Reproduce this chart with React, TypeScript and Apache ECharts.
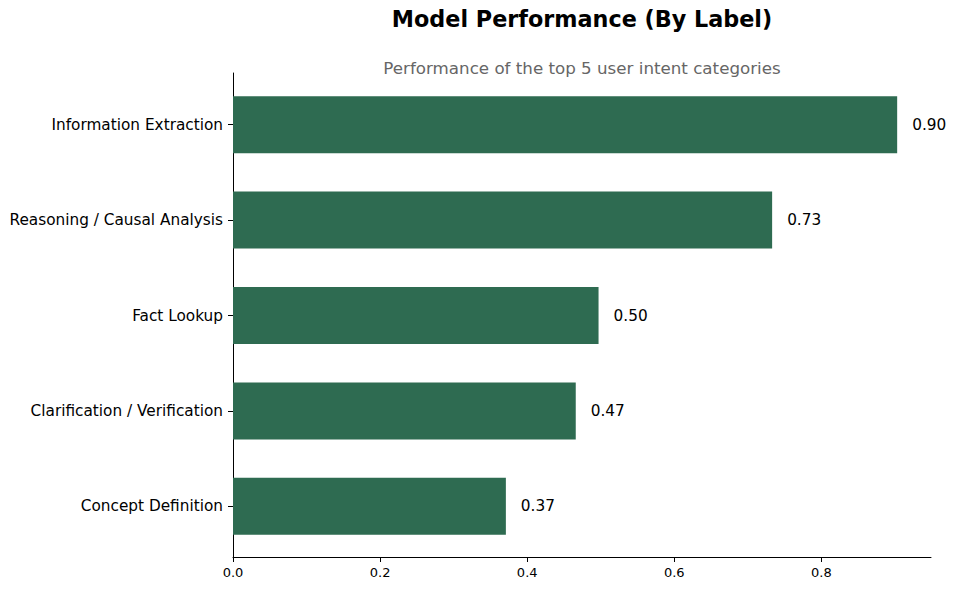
import React, { useEffect, useRef } from "react";
import * as echarts from "echarts";

const categories = [
  "Concept Definition",
  "Clarification / Verification",
  "Fact Lookup",
  "Reasoning / Causal Analysis",
  "Information Extraction",
];
const scores = [0.371, 0.466, 0.497, 0.733, 0.903];
const xTicks = [0, 0.2, 0.4, 0.6, 0.8];
const xMax = 0.949;

const FONT = "DejaVu Sans";

export default function App() {
  const ref = useRef<HTMLDivElement>(null);
  useEffect(() => {
    if (!ref.current) return;
    const chart = echarts.init(ref.current, null, { renderer: "svg" });
    chart.setOption({
      animation: false,
      backgroundColor: "#ffffff",
      textStyle: { fontFamily: FONT },
      title: [
        {
          text: "Model Performance (By Label)",
          left: 577,
          top: 3,
          textAlign: "center",
          textStyle: { fontFamily: FONT, fontSize: 22.3, fontWeight: "bold", color: "#000" },
        },
        {
          text: "Performance of the top 5 user intent categories",
          left: 577,
          top: 54,
          textAlign: "center",
          textStyle: { fontFamily: FONT, fontSize: 16.7, fontWeight: "normal", color: "#666666" },
        },
      ],
      grid: [
        { left: 233, right: 24, top: 77, bottom: 37, containLabel: false },
        { left: 233, right: 24, top: 73, bottom: 34, containLabel: false },
      ],
      xAxis: [
        {
          type: "value",
          gridIndex: 0,
          min: 0,
          max: xMax,
          show: false,
          splitLine: { show: false },
        },
        {
          type: "value",
          gridIndex: 1,
          min: 0,
          max: xMax,
          interval: 0.2,
          splitLine: { show: false },
          axisLine: { show: true, lineStyle: { color: "#000", width: 1 } },
          axisTick: {
            show: true,
            length: 5,
            customValues: xTicks,
            lineStyle: { color: "#000", width: 1 },
          },
          axisLabel: {
            show: true,
            margin: 9,
            fontSize: 13,
            fontFamily: FONT,
            color: "#000",
            customValues: xTicks,
            formatter: (v: number) => v.toFixed(1),
          },
        },
      ],
      yAxis: [
        {
          type: "category",
          gridIndex: 0,
          data: categories,
          axisLine: { show: false },
          axisTick: {
            show: true,
            alignWithLabel: true,
            length: 5,
            lineStyle: { color: "#000", width: 1 },
          },
          axisLabel: {
            margin: 10,
            fontSize: 15.3,
            fontFamily: FONT,
            color: "#000",
          },
          splitLine: { show: false },
        },
        {
          type: "value",
          gridIndex: 1,
          min: 0,
          max: 1,
          axisLine: { show: true, lineStyle: { color: "#000", width: 1 } },
          axisTick: { show: false },
          axisLabel: { show: false },
          splitLine: { show: false },
        },
      ],
      series: [
        {
          type: "bar",
          xAxisIndex: 0,
          yAxisIndex: 0,
          data: scores,
          barWidth: 57,
          itemStyle: { color: "#2e6b51" },
          label: {
            show: true,
            position: "right",
            distance: 15,
            fontSize: 15.3,
            fontFamily: FONT,
            color: "#000",
            formatter: (p: any) => Number(p.value).toFixed(2),
          },
        },
      ],
    });
    return () => chart.dispose();
  }, []);
  return (
    <div
      ref={ref}
      style={{ position: "fixed", left: 0, top: 0, width: 955, height: 591 }}
    />
  );
}
